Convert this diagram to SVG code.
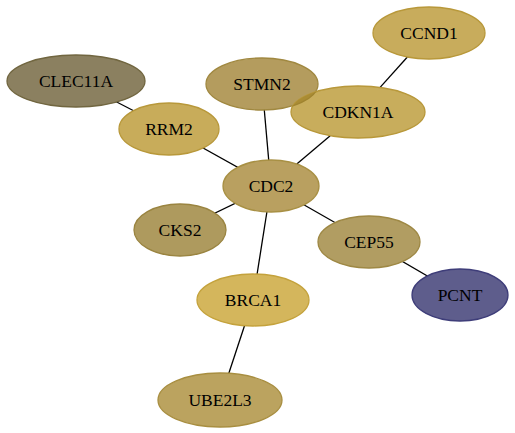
<svg xmlns="http://www.w3.org/2000/svg" width="515" height="433" viewBox="0 0 515 433">
<style>
.edge{stroke:#000;stroke-width:1.3;fill:none}
.node ellipse{stroke-width:1.3}
.node text{font-family:"Liberation Serif","Times New Roman",serif;font-size:17.5px;text-anchor:middle;fill:#000}
</style>
<defs>
<clipPath id="cdkClip"><ellipse cx="358" cy="112" rx="67" ry="26"/></clipPath>
</defs>
<rect width="515" height="433" fill="#fff"/>
<g id="edges">
<line class="edge" x1="76" y1="81" x2="169" y2="129"/>
<line class="edge" x1="169" y1="129" x2="271" y2="186"/>
<line class="edge" x1="262" y1="84" x2="271" y2="186"/>
<line class="edge" x1="330.2" y1="135.7" x2="296.8" y2="164.1"/>
<line class="edge" x1="407.4" y1="57" x2="380.1" y2="87.4"/>
<line class="edge" x1="271" y1="186" x2="180" y2="230"/>
<line class="edge" x1="271" y1="186" x2="369" y2="242"/>
<line class="edge" x1="271" y1="186" x2="253" y2="300"/>
<line class="edge" x1="369" y1="242" x2="460" y2="295"/>
<line class="edge" x1="253" y1="300" x2="220" y2="400"/>
</g>
<g id="CLEC11A" class="node"><ellipse cx="76" cy="81" rx="69" ry="26" fill="#8b8060" stroke="#716640"/><text x="76" y="87">CLEC11A</text></g>
<g id="RRM2" class="node"><ellipse cx="169" cy="129" rx="50" ry="26" fill="#c8ac5a" stroke="#b8983a"/><text x="169" y="135">RRM2</text></g>
<g id="STMN2" class="node"><ellipse cx="262" cy="84" rx="56" ry="26" fill="#b49c5e" stroke="#a08840"/><text x="262" y="90">STMN2</text></g>
<g id="CDKN1A" class="node"><ellipse cx="358" cy="112" rx="67" ry="26" fill="#c8ad5c" stroke="#b8983a"/><ellipse cx="262" cy="84" rx="56" ry="26" fill="#aa8c34" stroke="#a08430" clip-path="url(#cdkClip)"/><text x="358" y="118">CDKN1A</text></g>
<g id="CCND1" class="node"><ellipse cx="429" cy="33" rx="56" ry="26" fill="#c8ac5c" stroke="#b8983a"/><text x="429" y="39">CCND1</text></g>
<g id="CDC2" class="node"><ellipse cx="271" cy="186" rx="48" ry="26" fill="#b9a060" stroke="#a89044"/><text x="271" y="192">CDC2</text></g>
<g id="CKS2" class="node"><ellipse cx="180" cy="230" rx="46" ry="26" fill="#ae9a5e" stroke="#9a8440"/><text x="180" y="236">CKS2</text></g>
<g id="CEP55" class="node"><ellipse cx="369" cy="242" rx="51" ry="26" fill="#b19d62" stroke="#9e8844"/><text x="369" y="248">CEP55</text></g>
<g id="PCNT" class="node"><ellipse cx="460" cy="295" rx="48" ry="26" fill="#5e5d8c" stroke="#3e3d79"/><text x="460" y="301">PCNT</text></g>
<g id="BRCA1" class="node"><ellipse cx="253" cy="300" rx="56" ry="26" fill="#d4b65c" stroke="#c4a23c"/><text x="253" y="306">BRCA1</text></g>
<g id="UBE2L3" class="node"><ellipse cx="220" cy="400" rx="62" ry="27" fill="#bba35f" stroke="#a88e40"/><text x="220" y="406">UBE2L3</text></g>
</svg>
